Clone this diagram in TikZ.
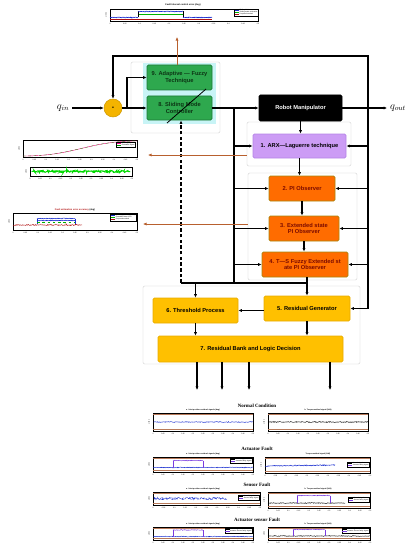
\documentclass[tikz,border=0pt]{standalone}
\usepackage{fontspec}
\setsansfont{Liberation Sans}
\newfontfamily\serifbf{Liberation Serif}
\usepackage{tikz}
\usetikzlibrary{positioning,arrows.meta,calc,decorations.pathmorphing}
\definecolor{greenc}{HTML}{2EA84E}
\definecolor{greend}{HTML}{1B7A36}
\definecolor{greent}{HTML}{0C3514}
\definecolor{haloc}{HTML}{C8F4F6}
\definecolor{lavc}{HTML}{CC9CF5}
\definecolor{lavd}{HTML}{B585E6}
\definecolor{orc}{HTML}{FF6C00}
\definecolor{ord}{HTML}{A8860E}
\definecolor{ortxt}{HTML}{7A0A00}
\definecolor{yelc}{HTML}{FFC000}
\definecolor{yeld}{HTML}{E8AC00}
\definecolor{sumc}{HTML}{F4B400}
\definecolor{brownc}{HTML}{B8602E}
\definecolor{thrc}{HTML}{B87A5A}
\definecolor{sigb}{HTML}{1A2FD0}
\definecolor{sigp}{HTML}{7A3BE0}
\definecolor{redc}{HTML}{B01010}
\tikzset{
  blk/.style={rounded corners=1.5pt,line width=0.8pt,inner sep=0pt,align=center,
    font=\sffamily\bfseries\fontsize{6.5}{7.6}\selectfont},
  grp/.style={draw=gray!45,line width=0.4pt,inner sep=0pt},
  flow/.style={->,line width=1.3pt},
  feed/.style={->,line width=1.1pt,brownc},
  tick/.style={inner sep=0pt,font=\sffamily\fontsize{2}{2.4}\selectfont},
  lgd/.style={draw=black,line width=0.15pt,fill=white,inner sep=0.6pt,align=left,
    font=\sffamily\fontsize{1.9}{2.3}\selectfont},
  ptitle/.style={inner sep=0pt,font=\sffamily\bfseries\fontsize{2.6}{3}\selectfont},
  stitle/.style={inner sep=0pt,font=\sffamily\bfseries\fontsize{2.1}{2.5}\selectfont},
  ctitle/.style={inner sep=0pt,font=\serifbf\bfseries\fontsize{5.6}{6.5}\selectfont},
  sig/.style={decorate,decoration={random steps,segment length=0.7pt,amplitude=#1}},
  sig/.default=0.4pt,
  thrline/.style={thrc,line width=0.45pt}
}
% block from pixel corners: name, x1, y1, x2, y2, style, text
\newcommand{\blk}[7]{%
  \node[blk,#6,minimum width={(#4-#2)*0.04cm},minimum height={(#5-#3)*0.04cm}]
    (#1) at ({(#2+#4)/2},{(#3+#5)/2}) {#7};
}
% plot frame with time ticks: name, x1, y1, x2, y2
\newcommand{\axfr}[5]{%
  \node[draw=black,line width=0.2pt,fill=white,inner sep=0pt,
    minimum width={(#4-#2)*0.04cm},minimum height={(#5-#3)*0.04cm}]
    (#1) at ({(#2+#4)/2},{(#3+#5)/2}) {};
  \foreach \k/\t in {0/0,1/0.05,2/0.1,3/0.15,4/0.2,5/0.25,6/0.3,7/0.35,8/0.4,9/0.45,10/0.5}
    \node[tick] (#1t\k) at ({#2+\k*(#4-#2)/10},{#5+2.6}) {\t};
  \node[tick,rotate=90] (#1y) at ({#2-4},{(#3+#5)/2}) {Link 1};
}
% threshold lines inside a frame
\newcommand{\thrs}[1]{%
  \draw[thrline] ([yshift=-0.07cm]#1.north west) -- ([yshift=-0.07cm]#1.north east);
  \draw[thrline] ([yshift=0.07cm]#1.south west) -- ([yshift=0.07cm]#1.south east);
}
\newcommand{\lgkey}[1]{\textcolor{#1}{\rule[0.5pt]{5pt}{0.35pt}}~}

\begin{document}
\begin{tikzpicture}[x=0.04cm,y=-0.04cm,>={Latex[length=4pt,width=3.6pt]}]
  \pgfmathsetseed{7}
  \useasboundingbox (0,0) rectangle (408,550);

  % ---- groups
  \blk{gctl}{131}{62}{220}{133}{grp}{}
  \blk{garx}{247}{122}{351}{166}{grp}{}
  \blk{gobs}{248}{173}{357}{280}{grp}{}
  \blk{gres}{143}{286}{360}{364}{grp}{}
  \blk{halo}{143}{63}{216}{124}{fill=haloc,rounded corners=0pt,line width=0pt}{}

  % ---- blocks
  \blk{ada}{147}{65}{212}{90}{fill=greenc,draw=greend,text=greent}{9. Adaptive --- Fuzzy\\Technique}
  \blk{smc}{147}{96}{212}{120}{fill=greenc,draw=greend,text=greent}{8. Sliding Mode\\Controller}
  \blk{robot}{259}{95}{342}{121}{fill=black,draw=black,text=white}{Robot Manipulator}
  \blk{arx}{253}{134}{346}{158}{fill=lavc,draw=lavd}{1. ARX---Laguerre technique}
  \blk{pio}{269}{176}{335}{201}{fill=orc,draw=ord,text=ortxt}{2. PI Observer}
  \blk{espio}{269}{216}{339}{241}{fill=orc,draw=ord,text=ortxt}{3. Extended state\\PI Observer}
  \blk{tspio}{262}{252}{348}{277}{fill=orc,draw=ord,text=ortxt}{4. T---S Fuzzy Extended st\\ate PI Observer}
  \blk{resgen}{264}{296}{350}{321}{fill=yelc,draw=yeld}{5. Residual Generator}
  \blk{thr}{153}{298}{238}{323}{fill=yelc,draw=yeld}{6. Threshold Process}
  \blk{bank}{158}{336}{343}{362}{fill=yelc,draw=yeld}{7. Residual Bank and Logic Decision}
  \node[circle,fill=sumc,draw=sumc!85!black,line width=0.6pt,minimum size=0.72cm,inner sep=0pt,
    font=\sffamily\bfseries\fontsize{8}{9}\selectfont] (sum) at (113,108) {-};
  \node (qin) at (63,108) {\fontsize{12}{13}\selectfont$q_{in}$};
  \node (qout) at (398,108) {\fontsize{12}{13}\selectfont$q_{out}$};

  % ---- junctions
  \coordinate (jbr) at (127,108);
  \coordinate (jl) at (234,108);
  \coordinate (jout) at (368,108);
  \coordinate (ftop) at (368,56);
  \coordinate (jd) at (181,283);
  \coordinate (jb) at (234,283);

  % ---- signal flow
  \draw[flow] (qin) -- (sum);
  \draw[flow] (sum) -- (smc);
  \draw[flow] (jbr) |- (ada.west);
  \draw[flow] (smc) -- (robot);
  \draw[flow] (robot) -- (qout);
  \draw[flow] (jout) -- (ftop) -| (sum.north);
  \draw[flow] (jout) |- (resgen.east);
  \draw[line width=1.3pt] (jl) -- (jb);
  \draw[flow] (robot.south) -- (robot.south |- arx.north);
  \draw[flow] (arx.south) -- (arx.south |- pio.north);
  \draw[flow] (pio.south) -- (pio.south |- espio.north);
  \draw[flow] (espio.south) -- (espio.south |- tspio.north);
  \foreach \b in {arx,pio,espio,tspio}{
    \draw[flow] (\b.west -| jl) -- (\b.west);
    \draw[flow] (\b.east -| jout) -- (\b.east);
  }
  \draw[flow,dash pattern=on 4pt off 2.5pt] (jd) -- (jd |- smc.south);
  \draw[line width=1.3pt] (jd) -- (resgen.north |- jd);
  \draw[flow] (thr.north |- jd) -- (thr.north);
  \draw[flow] (resgen.north |- tspio.south) -- (resgen.north);
  \draw[flow] (resgen.west |- thr) -- (thr.east);
  \draw[flow] (thr.south) -- (thr.south |- bank.north);
  \draw[flow] (resgen.south) -- (resgen.south |- bank.north);
  \foreach \i/\x in {1/197,2/222,3/249,4/330}{
    \coordinate (o\i) at (\x,390);
    \draw[flow] (o\i |- bank.south) -- (o\i);
  }
  \draw[line width=0.9pt] (167,123) -- (206,89);

  % ---- estimates sent out
  \coordinate (etop) at (177,37);
  \coordinate (earx) at (148,155);
  \coordinate (eobs) at (143,224);
  \draw[feed] (ada.north -| etop) -- (etop);
  \draw[feed] (garx.west |- earx) -- (earx);
  \draw[feed] (gobs.west |- eobs) -- (eobs);

  % ---- control error plot
  \node[ptitle] (tpT) at (183,5) {Fault tolerant control error (deg)};
  \axfr{tp}{110}{9}{258}{21}
  \draw[redc,line width=0.4pt] (110,19.3) -- (212,19.3);
  \draw[green!70!black,line width=0.5pt] (138,14.5) -- (183,14.5);
  \draw[black,line width=0.2pt] (138,17.5) -- (138,11.5) (183,11.5) -- (183,17.5);
  \draw[sigb,line width=0.7pt,sig] (110,17.5) -- (138,17.5);
  \draw[sigb,line width=0.7pt,sig] (138,11.5) -- (183,11.5);
  \draw[sigb,line width=0.7pt,sig] (183,17.5) -- (212,17.5);
  \node[lgd,anchor=north east] (tpL) at (258,9)
    {\lgkey{sigb}Sliding Mode\\\lgkey{green!70!black}Sliding mode estimation\\\lgkey{redc}Proposed method};

  % ---- ARX estimation plots
  \axfr{pa}{23}{140}{137}{157}
  \draw[magenta!80!red,line width=0.45pt] (23,156) .. controls (75,156) and (88,141) .. (137,141);
  \draw[green!60!black,line width=0.3pt,dashed] (23,156) .. controls (75,156) and (88,141) .. (137,141);
  \node[lgd,anchor=north east] (paL) at (135,142) {\lgkey{magenta}Real Signal\\\lgkey{green!60!black}Estimated Signal};
  \axfr{pb}{30}{167}{132}{176}
  \draw[green!85!black,line width=1.2pt,sig=1.2pt] (32,171.5) -- (130,171.5);

  % ---- fault estimation plot
  \node[ptitle,text=redc] (pcT) at (75,210) {Fault estimation error accuracy \textcolor{black}{(deg)}};
  \axfr{pc}{13}{213}{137}{230}
  \draw[sigb,line width=0.4pt] (37,224) -- (37,218.5) (75,218.5) -- (75,224);
  \draw[sigb,line width=0.6pt,sig] (37,218.5) -- (75,218.5);
  \draw[sigb,line width=0.6pt,sig] (37,220.5) -- (75,220.5);
  \draw[green!70!black,line width=0.5pt,dashed] (37,222) -- (75,222);
  \draw[redc,line width=0.5pt,sig=0.6pt] (13,225) -- (82,225);
  \node[lgd,anchor=north east] (pcL) at (136,214)
    {\lgkey{sigb}ARX-Laguerre PIO (APIO)\\\lgkey{green!70!black}Extended State APIO\\\lgkey{redc}Proposed method};

  % ---- residual plots
  \node[ctitle] (c1) at (257,406) {Normal Condition};
  \node[stitle] (r1aT) at (203,410) {a. Joint position residual signals (deg)};
  \axfr{r1a}{153}{413}{253}{431}\thrs{r1a}
  \draw[sigb,line width=0.5pt,sig=0.5pt] (153,422) -- (253,422);
  \node[stitle] (r1bT) at (318,410) {b. Torque residual signal (N.M)};
  \axfr{r1b}{268}{413}{368}{431}\thrs{r1b}
  \draw[black,line width=0.5pt,sig=0.5pt] (268,422) -- (368,422);

  \node[ctitle] (c2) at (257,449) {Actuator Fault};
  \node[stitle] (r2aT) at (203,454) {a. Joint position residual signals (deg)};
  \axfr{r2a}{153}{457}{253}{472}\thrs{r2a}
  \draw[sigb,line width=0.5pt,sig] (153,467.5) -- (253,467.5);
  \draw[sigp,line width=0.3pt] (173,467.5) -- (173,460.5) (203,460.5) -- (203,467.5);
  \draw[sigp,line width=0.5pt,sig] (173,460.5) -- (203,460.5);
  \node[lgd,anchor=north east] (r2aL) at (252,458) {\lgkey{black}Normal signal\\\lgkey{sigp}Actuator faulty signal};
  \node[stitle] (r2bT) at (318,454) {Torque residual signal (N.M)};
  \axfr{r2b}{265}{457}{370}{473}\thrs{r2b}
  \draw[sigb,line width=0.6pt,sig=0.5pt] (265,466) -- (335,465);
  \node[lgd,anchor=north east] (r2bL) at (369,462) {\lgkey{black}Normal signal\\\lgkey{sigp}Actuator faulty signal};

  \node[ctitle] (c3) at (257,485) {Sensor Fault};
  \node[stitle] (r3aT) at (203,489) {a. Joint position residual signals (deg)};
  \axfr{r3a}{153}{492}{260}{505}\thrs{r3a}
  \draw[sigb,line width=0.4pt,sig=1.4pt] (154,498.5) -- (226,498.5);
  \node[lgd,anchor=north east] (r3aL) at (259,495) {\lgkey{black}Normal signal\\\lgkey{sigp}Sensor faulty signal};
  \node[stitle] (r3bT) at (318,489) {b. Torque residual signal (N.M)};
  \axfr{r3b}{268}{492}{370}{508}\thrs{r3b}
  \draw[black,line width=0.5pt,sig] (268,503) -- (345,503);
  \draw[sigp,line width=0.3pt] (297,503) -- (297,495.5) (330,495.5) -- (330,503);
  \draw[sigp,line width=0.5pt,sig] (297,495.5) -- (330,495.5);
  \node[lgd,anchor=north east] (r3bL) at (369,497) {\lgkey{black}Normal signal\\\lgkey{sigp}Sensor faulty signal};

  \node[ctitle] (c4) at (257,520) {Actuator sensor Fault};
  \node[stitle] (r4aT) at (203,524) {a. Joint position residual signals (deg)};
  \axfr{r4a}{153}{527}{253}{540}\thrs{r4a}
  \draw[sigb,line width=0.5pt,sig] (153,536.5) -- (253,536.5);
  \draw[sigp,line width=0.3pt] (173,536.5) -- (173,530) (203,530) -- (203,536.5);
  \draw[sigp,line width=0.5pt,sig] (173,530) -- (203,530);
  \node[lgd,anchor=north east] (r4aL) at (252,528) {\lgkey{black}Normal signal\\\lgkey{sigp}Actuator Sensor faulty signal};
  \node[stitle] (r4bT) at (318,524) {b. Torque residual signal (N.M)};
  \axfr{r4b}{268}{527}{370}{540}\thrs{r4b}
  \draw[black,line width=0.5pt,sig] (268,536) -- (370,536);
  \draw[sigp,line width=0.3pt] (293,536) -- (293,529.5) (325,529.5) -- (325,536);
  \draw[sigp,line width=0.5pt,sig] (293,529.5) -- (325,529.5);
  \node[lgd,anchor=north east] (r4bL) at (369,528) {\lgkey{black}Normal signal\\\lgkey{sigp}Actuator Sensor faulty signal};
\end{tikzpicture}
\end{document}
